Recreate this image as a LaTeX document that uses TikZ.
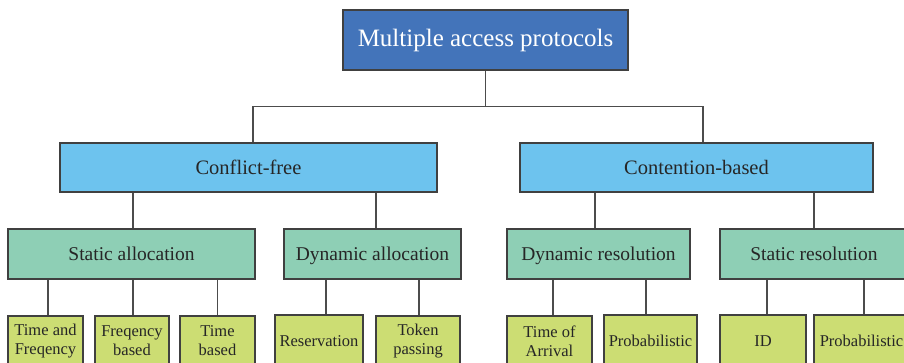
\documentclass[tikz,border=0pt]{standalone}
\usepackage{fontspec}
\setmainfont{Liberation Serif}
\usepackage{tikz}

\definecolor{topblue}{RGB}{67,116,186}
\definecolor{midblue}{RGB}{109,195,238}
\definecolor{mint}{RGB}{142,207,181}
\definecolor{lime}{RGB}{204,221,115}

\begin{document}
\begin{tikzpicture}[x=1pt,y=-1pt,
    box/.style={draw=black!75,line width=1.1pt,inner sep=2pt,align=center},
    oneline/.style={text height=15,text depth=2},
    rootbox/.style={box,oneline,fill=topblue,text=white,font=\fontsize{25}{29}\selectfont,minimum width=285,minimum height=60},
    groupbox/.style={box,oneline,fill=midblue,text=black!85,font=\fontsize{20.5}{24}\selectfont,minimum height=49},
    kindbox/.style={box,oneline,fill=mint,text=black!85,font=\fontsize{19.5}{23}\selectfont,minimum height=50},
    leafbox/.style={box,fill=lime,text=black!85,font=\fontsize{16.5}{19}\selectfont,minimum height=50},
    link/.style={draw=black!70,line width=1.1pt}]
      \useasboundingbox (0,0) rectangle (904,362);
      % root
      \node[rootbox] (mac) at (485.5,40) {Multiple access protocols};
      % first level
      \node[groupbox,minimum width=377] (cf) at (248.5,167.5) {Conflict-free};
      \node[groupbox,minimum width=353] (cb) at (696.5,167.5) {Contention-based};
      % second level
      \node[kindbox,minimum width=247] (sa) at (131.5,254) {Static allocation};
      \node[kindbox,minimum width=177] (da) at (372.5,254) {Dynamic allocation};
      \node[kindbox,minimum width=183] (dr) at (598.5,254) {Dynamic resolution};
      \node[kindbox,minimum width=188] (sr) at (814,254) {Static resolution};
      % leaves
      \node[leafbox,minimum width=75] (tf) at (45.5,341) {Time and\\Freqency};
      \node[leafbox,minimum width=74] (fb) at (132,341) {Freqency\\based};
      \node[leafbox,minimum width=75] (tb) at (217.5,341) {Time\\based};
      \node[leafbox,oneline,minimum width=88] (rs) at (319,340) {Reservation};
      \node[leafbox,minimum width=84] (tp) at (418,341) {Token\\passing};
      \node[leafbox,minimum width=85] (ta) at (549.5,341) {Time of\\Arrival};
      \node[leafbox,oneline,minimum width=93] (pa) at (650.5,340) {Probabilistic};
      \node[leafbox,oneline,minimum width=86] (id) at (763,340) {ID};
      \node[leafbox,oneline,minimum width=95] (pb) at (861.5,340) {Probabilistic};
      % connectors
      \draw[link] ([xshift=4.5]cf.north) -- ++(0,-36) coordinate (bus) -| ([xshift=6.5]cb.north);
      \draw[link] (mac.south) -- (mac.south |- bus);
      \draw[link] ([xshift=1.5]sa.north) -- ([xshift=1.5]sa.north |- cf.south);
      \draw[link] ([xshift=3.5]da.north) -- ([xshift=3.5]da.north |- cf.south);
      \draw[link] ([xshift=-3.5]dr.north) -- ([xshift=-3.5]dr.north |- cb.south);
      \draw[link] (sr.north) -- (sr.north |- cb.south);
      \draw[link] ([xshift=2.5]tf.north) -- ([xshift=2.5]tf.north |- sa.south);
      \draw[link] ([xshift=1]fb.north) -- ([xshift=1]fb.north |- sa.south);
      \draw[link] (tb.north) -- (tb.north |- sa.south);
      \draw[link] ([xshift=7]rs.north) -- ([xshift=7]rs.north |- da.south);
      \draw[link] ([xshift=1]tp.north) -- ([xshift=1]tp.north |- da.south);
      \draw[link] ([xshift=3.5]ta.north) -- ([xshift=3.5]ta.north |- dr.south);
      \draw[link] ([xshift=-4.5]pa.north) -- ([xshift=-4.5]pa.north |- dr.south);
      \draw[link] ([xshift=4]id.north) -- ([xshift=4]id.north |- sr.south);
      \draw[link] ([xshift=2.5]pb.north) -- ([xshift=2.5]pb.north |- sr.south);
\end{tikzpicture}
\end{document}
